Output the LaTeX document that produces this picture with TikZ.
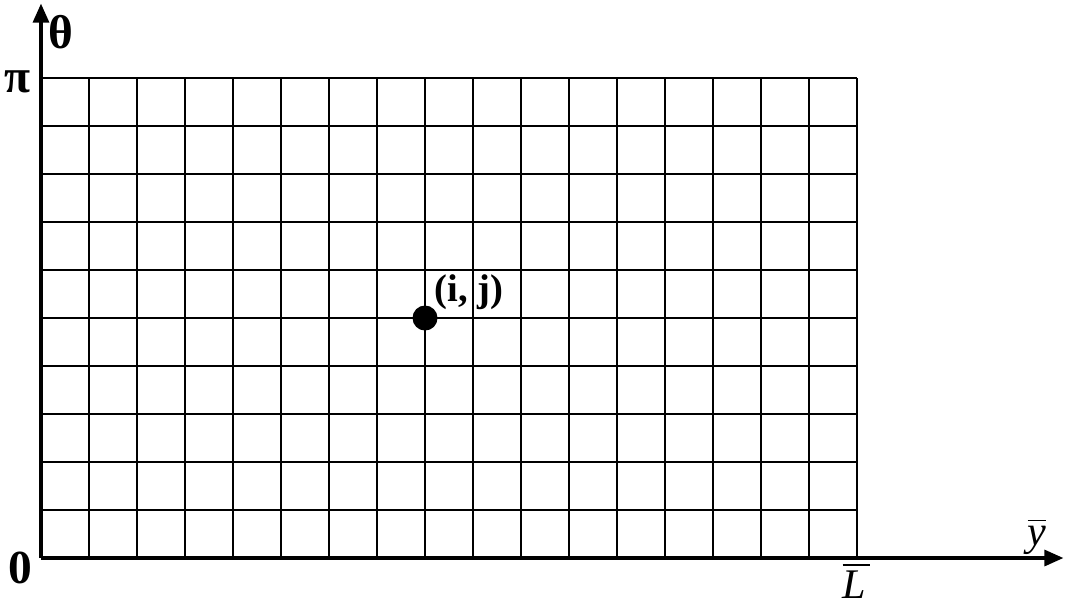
\documentclass[tikz,border=0pt]{standalone}
\usepackage{amsmath}
\usepackage{fontspec}
\setmainfont{Liberation Serif}
\usepackage{tikz}
\usetikzlibrary{arrows.meta, calc}
\usepackage{xcolor}

\begin{document}
\begin{tikzpicture}[scale=0.48]
    \useasboundingbox (-0.854,-1) rectangle (21.333,11.625);
    \coordinate (O) at (0,0);
    \coordinate (ytip) at (21.3,0);
    \coordinate (thtip) at (0,11.55);
    \draw[line width=0.5pt] (O) grid (17,10);
    \draw[line width=0.9pt, -{Triangle[length=0.19cm, width=0.16cm]}] (O) -- (ytip);
    \draw[line width=0.9pt, -{Triangle[length=0.19cm, width=0.16cm]}] (O) -- (thtip);
    \node[circle, fill, inner sep=0pt, minimum size=0.25cm] (pt) at (8,5) {};
    \node[font=\fontsize{11}{13}\selectfont\bfseries] (ij) at (8.92,5.54) {(i, j)};
    \node[font=\fontsize{13.5}{15}\selectfont\bfseries] (th) at (0.42,10.96) {θ};
    \node[font=\fontsize{13.5}{15}\selectfont\bfseries] (pi) at (-0.48,9.92) {π};
    \node[font=\fontsize{13.5}{15}\selectfont\bfseries] (zero) at (-0.44,-0.2) {0};
    \node[font=\fontsize{12}{14}\selectfont, inner sep=0pt, anchor=base] (Lbar) at (16.98,-0.84) {$\overline{\mbox{\textit{L}\hspace{1pt}}}$};
    \node[font=\fontsize{12}{14}\selectfont] (ybar) at (20.75,0.45) {$\overline{\mbox{\textit{y}}}$};
\end{tikzpicture}
\end{document}
